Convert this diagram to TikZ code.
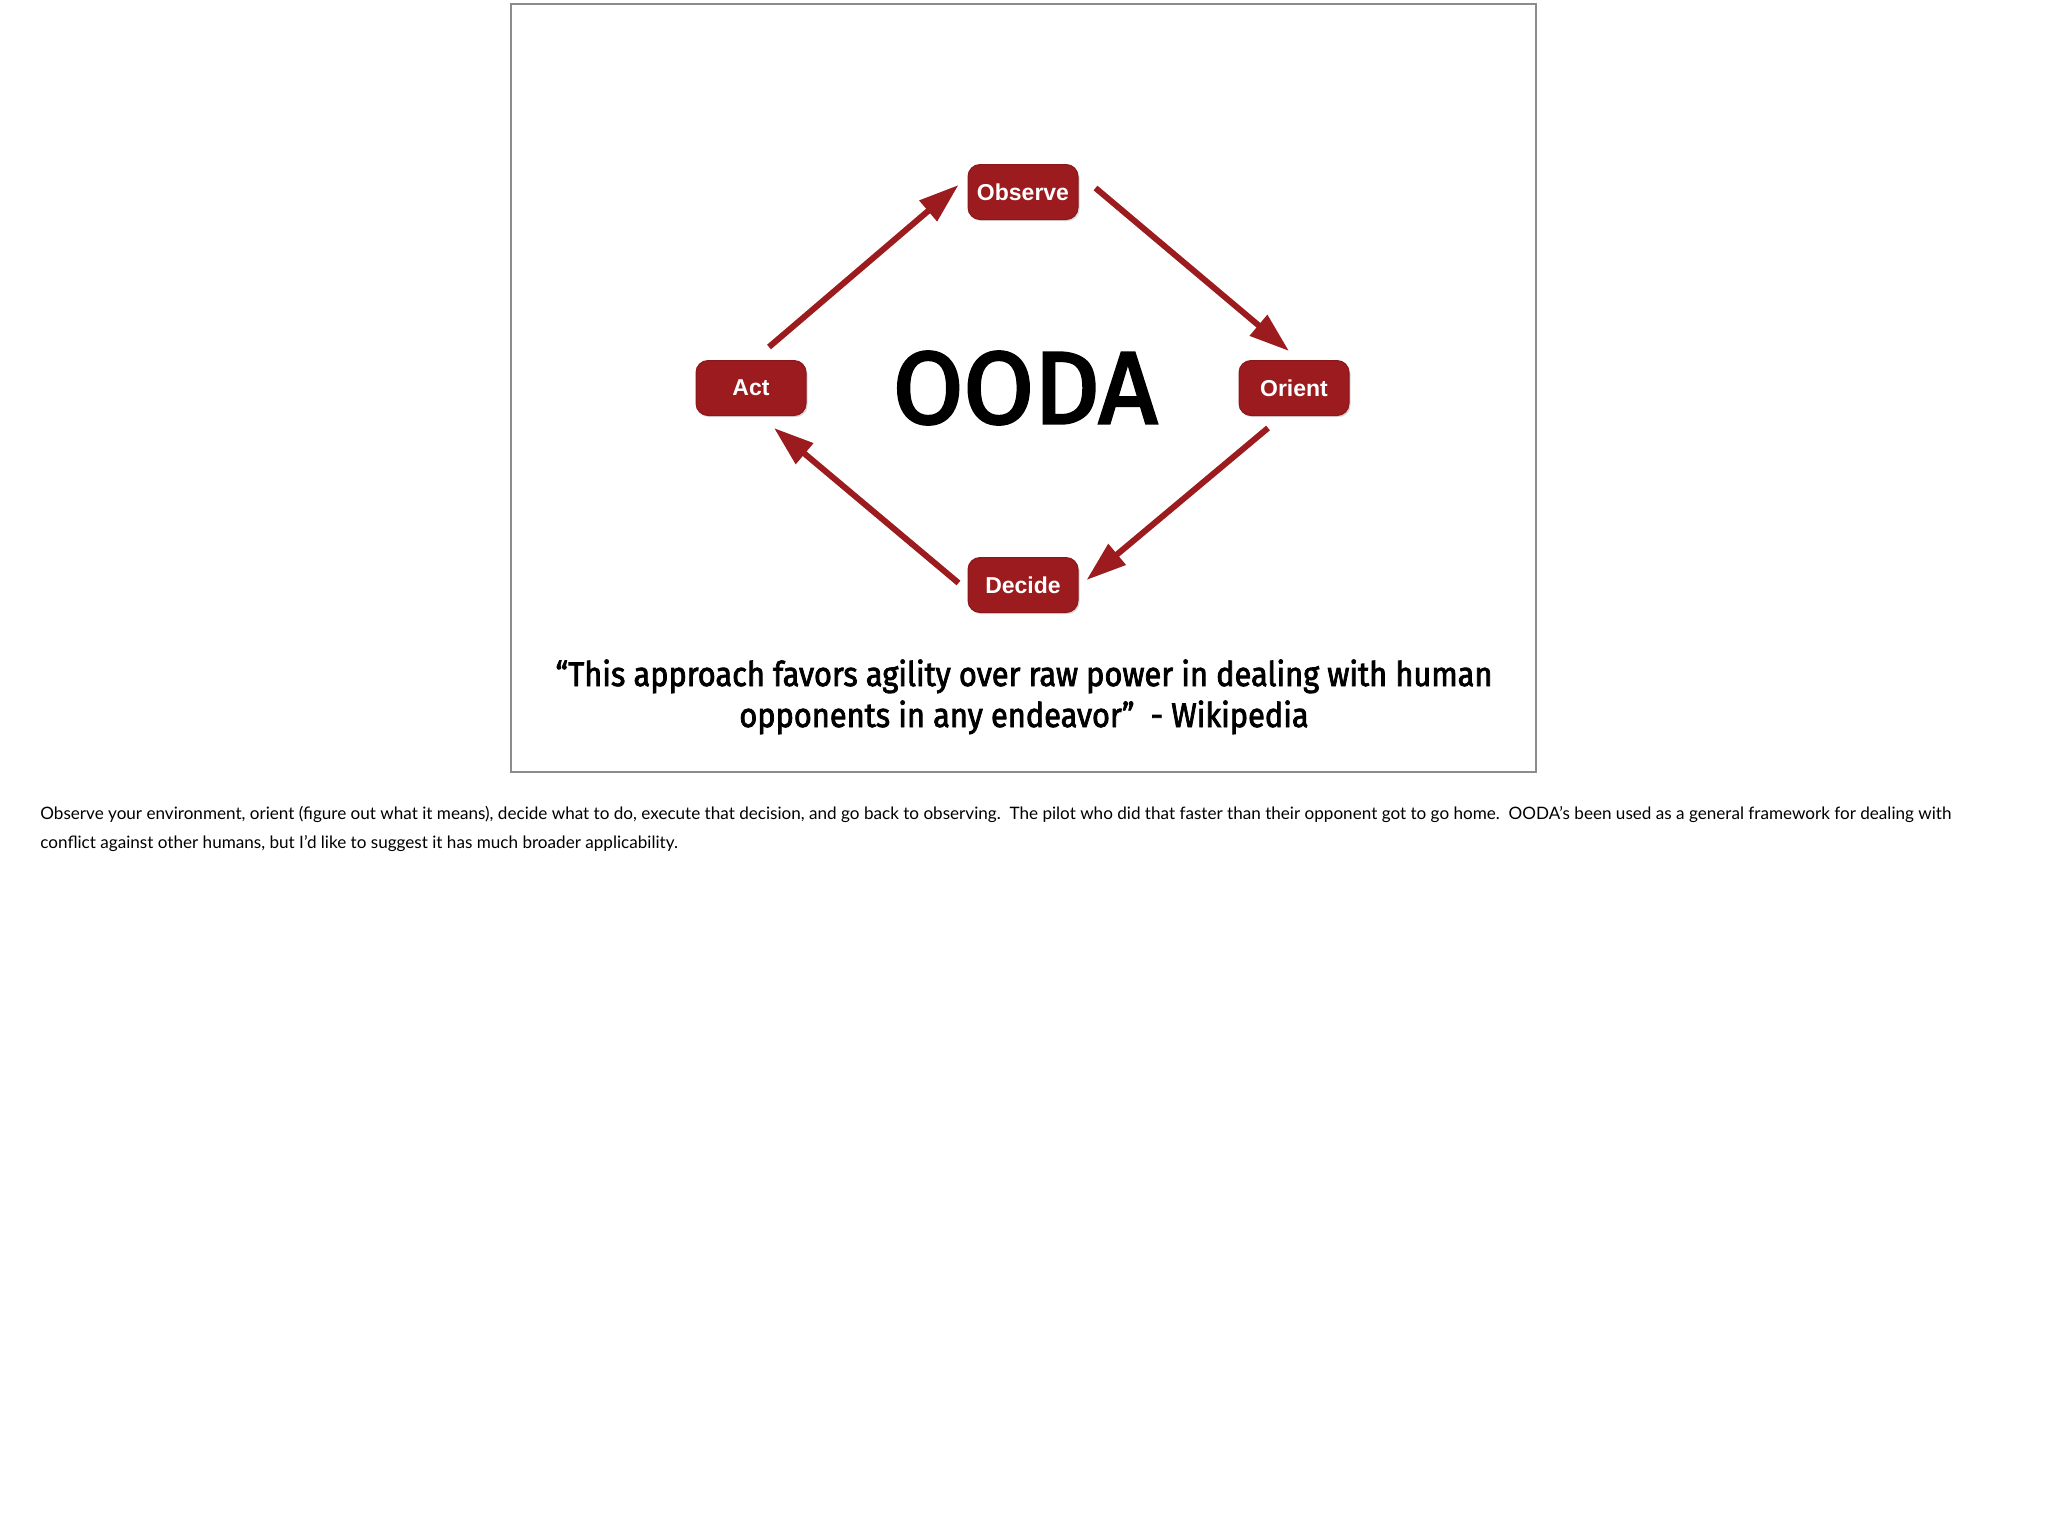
\documentclass[tikz,border=0pt]{standalone}
\usepackage{fontspec}
\usepackage{xcolor}
\usepackage{tikz}
\usetikzlibrary{arrows.meta,shadows}
\newfontfamily\boxfont{Liberation Sans}
\newfontfamily\quotefont{Fira Sans}[FakeStretch=0.905, FakeBold=2.2]
\newfontfamily\titlefont{Fira Sans}[FakeBold=3]
\newfontfamily\notefont{Lato}
\definecolor{oodared}{HTML}{9B1B1E}
\definecolor{oodaedge}{HTML}{8A171A}
\definecolor{framegray}{HTML}{8C8C8C}
\tikzset{
  stepbox/.style={rectangle, draw=oodaedge, line width=0.5pt, fill=oodared, rounded corners=6pt,
    minimum width=55pt, minimum height=27.5pt, inner sep=0pt,
    text=white, font=\boxfont\bfseries\fontsize{11.5}{13}\selectfont,
    drop shadow={opacity=0.3, shadow xshift=0.8pt, shadow yshift=-0.8pt}},
  loopline/.style={draw=oodared, line width=3pt, -{Triangle[length=20pt,width=13pt]}},
  quoteline/.style={inner sep=0pt, anchor=base, font=\quotefont\fontsize{17}{20}\selectfont},
  noteline/.style={inner sep=0pt, anchor=base west, font=\notefont\fontsize{8.55}{10}\selectfont}
}
\begin{document}
\begin{tikzpicture}[x=0.5pt, y=-0.5pt]
    \useasboundingbox (0,0) rectangle (2048,1527);
    % Slide frame
    \draw [framegray, line width=0.7pt] (511,4) rectangle (1536,772);
    % Place nodes
    \node [font=\titlefont\fontsize{51}{60}\selectfont, inner sep=0pt] (ooda) at (1025,388) {OODA};
    \node [stepbox] (observe) at (1023,192) {Observe};
    \node [stepbox] (orient) at (1294,388) {Orient};
    \node [stepbox] (decide) at (1023,585) {Decide};
    \node [stepbox] (act) at (751,388) {Act};
    \node [quoteline] (quote1) at (1024,686) {“This approach favors agility over raw power in dealing with human};
    \node [quoteline] (quote2) at (1024,727) {opponents in any endeavor”\ \ - Wikipedia};
    \node [noteline] (note1) at (40,819) {Observe your environment, orient (figure out what it means), decide what to do, execute that decision, and go back to observing.\ \ The pilot who did that faster than their opponent got to go home.\ \ OODA’s been used as a general framework for dealing with};
    \node [noteline] (note2) at (40,848) {conflict against other humans, but I’d like to suggest it has much broader applicability.};

    % Draw edges
    \path [loopline] ([xshift=9pt,yshift=6.5pt]act.north) -- ([xshift=-4.5pt,yshift=3.5pt]observe.west);
    \path [loopline] ([xshift=8.5pt,yshift=2pt]observe.east) -- ([xshift=-2.5pt,yshift=4.5pt]orient.north);
    \path [loopline] ([xshift=-13pt,yshift=-6pt]orient.south) -- ([xshift=4pt,yshift=2.5pt]decide.east);
    \path [loopline] ([xshift=-4.5pt,yshift=1pt]decide.west) -- ([xshift=11.5pt,yshift=-6pt]act.south);
\end{tikzpicture}
\end{document}
